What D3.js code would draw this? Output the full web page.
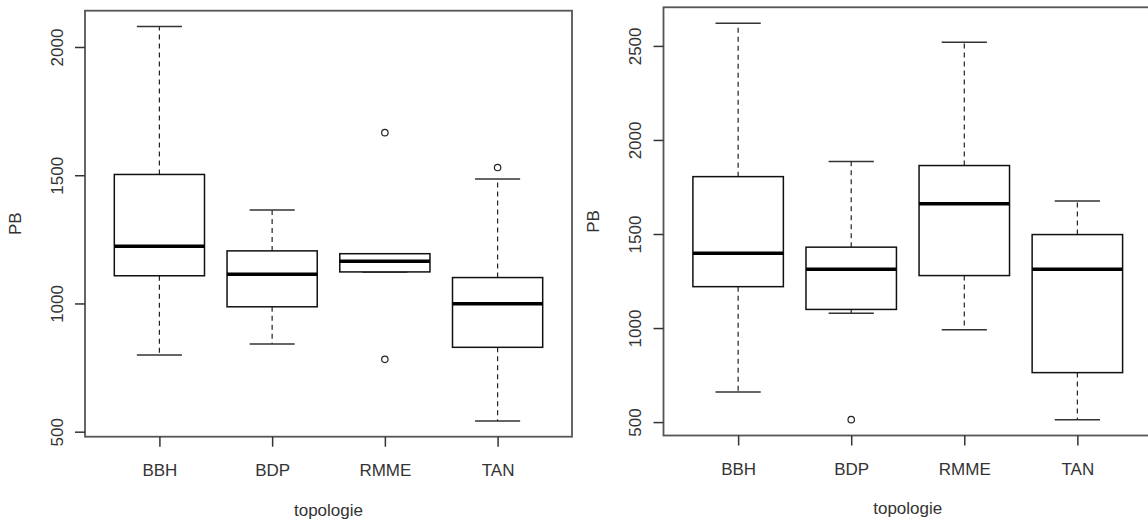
<!DOCTYPE html>
<html>
<head>
<meta charset="utf-8">
<script src="https://cdn.jsdelivr.net/npm/d3@7"></script>
<style>
  body { margin: 0; background: #fff; }
  text { font-family: "Liberation Sans", Arial, sans-serif; fill: #333; }
</style>
</head>
<body>
<div class="chart"></div>
<script>
var svgWidth = 1148;
var svgHeight = 519;

// categories on the x axis (same for both panels)
var categories = ["BBH", "BDP", "RMME", "TAN"];

// left panel: box statistics
var leftLower = [799, 842, 1123, 542];
var leftQ1 = [1108, 987, 1123, 829];
var leftMedian = [1223, 1114, 1165, 999];
var leftQ3 = [1503, 1205, 1194, 1101];
var leftUpper = [2080, 1364, 1194, 1485];
var leftOutliers = [[], [], [1666, 782], [1530]];
var leftTicks = [500, 1000, 1500, 2000];

// right panel
var rightLower = [660, 1078, 991, 513];
var rightQ1 = [1220, 1099, 1279, 763];
var rightMedian = [1398, 1313, 1661, 1313];
var rightQ3 = [1805, 1430, 1864, 1497];
var rightUpper = [2621, 1885, 2520, 1675];
var rightOutliers = [[], [513], [], []];
var rightTicks = [500, 1000, 1500, 2000, 2500];

var svg = d3.select(".chart")
  .append("svg")
  .attr("width", svgWidth)
  .attr("height", svgHeight);

svg.append("rect")
  .attr("width", svgWidth)
  .attr("height", svgHeight)
  .attr("fill", "#fff");

// draws one R-style boxplot panel
function drawPanel(box, lower, q1, median, q3, upper, outliers, ticks) {
  var width = box.right - box.left;
  var height = box.bottom - box.top;

  var g = svg.append("g")
    .attr("transform", `translate(${box.left}, ${box.top})`);

  // x: positions 1..n, range 0.5..n+0.5 padded by 4% like R
  var n = categories.length;
  var xPad = n * 0.04;
  var x = d3.scaleLinear()
    .domain([0.5 - xPad, n + 0.5 + xPad])
    .range([0, width]);

  // y: data range padded by 4%
  var all = lower.concat(upper, d3.merge(outliers));
  var yMin = d3.min(all), yMax = d3.max(all);
  var yPad = (yMax - yMin) * 0.04;
  var y = d3.scaleLinear()
    .domain([yMin - yPad, yMax + yPad])
    .range([height, 0]);

  var data = categories.map(function(c, i) {
    return {
      name: c, pos: i + 1,
      lower: lower[i], q1: q1[i], median: median[i], q3: q3[i], upper: upper[i],
      outliers: outliers[i]
    };
  });

  var boxW = x(1.4) - x(1);
  var capW = x(1.2) - x(1);

  // whiskers (dashed)
  data.forEach(function(d) {
    [[d.q3, d.upper], [d.q1, d.lower]].forEach(function(seg) {
      if (seg[0] === seg[1]) return;
      g.append("line")
        .attr("x1", x(d.pos)).attr("x2", x(d.pos))
        .attr("y1", y(seg[0])).attr("y2", y(seg[1]))
        .attr("stroke", "#222")
        .attr("stroke-width", 1.2)
        .attr("stroke-dasharray", "5,4");
    });
    [d.upper, d.lower].forEach(function(v) {
      g.append("line")
        .attr("x1", x(d.pos) - capW).attr("x2", x(d.pos) + capW)
        .attr("y1", y(v)).attr("y2", y(v))
        .attr("stroke", "#333")
        .attr("stroke-width", 1.5);
    });
  });

  // boxes
  g.selectAll(".box")
    .data(data)
    .enter()
    .append("rect")
    .attr("class", "box")
    .attr("x", d => x(d.pos) - boxW)
    .attr("width", boxW * 2)
    .attr("y", d => y(d.q3))
    .attr("height", d => y(d.q1) - y(d.q3))
    .attr("fill", "#fff")
    .attr("stroke", "#111")
    .attr("stroke-width", 1.5);

  // medians
  g.selectAll(".median")
    .data(data)
    .enter()
    .append("line")
    .attr("class", "median")
    .attr("x1", d => x(d.pos) - boxW)
    .attr("x2", d => x(d.pos) + boxW)
    .attr("y1", d => y(d.median))
    .attr("y2", d => y(d.median))
    .attr("stroke", "#000")
    .attr("stroke-width", 3.5);

  // outliers
  data.forEach(function(d) {
    d.outliers.forEach(function(v) {
      g.append("circle")
        .attr("cx", x(d.pos))
        .attr("cy", y(v))
        .attr("r", 3.2)
        .attr("fill", "none")
        .attr("stroke", "#222")
        .attr("stroke-width", 1.2);
    });
  });

  // frame
  g.append("rect")
    .attr("width", width)
    .attr("height", height)
    .attr("fill", "none")
    .attr("stroke", "#555")
    .attr("stroke-width", 1.8);

  // y axis
  var leftAxis = d3.axisLeft(y)
    .tickValues(ticks)
    .tickSize(10)
    .tickFormat(d3.format("d"));

  var yAxis = g.append("g").call(leftAxis);
  yAxis.select(".domain").remove();
  yAxis.selectAll("line").attr("stroke", "#333").attr("stroke-width", 1.5);
  yAxis.selectAll("text")
    .attr("x", 0)
    .attr("dy", "0.35em")
    .attr("transform", "translate(-28,0) rotate(-90)")
    .attr("text-anchor", "middle")
    .style("font-size", "17px")
    .style("fill", "#333");

  // x axis
  var bottomAxis = d3.axisBottom(x)
    .tickValues(data.map(d => d.pos))
    .tickSize(10)
    .tickPadding(17)
    .tickFormat((d, i) => categories[i]);

  var xAxis = g.append("g")
    .attr("transform", `translate(0, ${height})`)
    .call(bottomAxis);
  xAxis.select(".domain").remove();
  xAxis.selectAll("line").attr("stroke", "#333").attr("stroke-width", 1.5);
  xAxis.selectAll("text")
    .style("font-size", "17px")
    .style("fill", "#333");

  // axis titles
  g.append("text")
    .attr("x", width / 2)
    .attr("y", height + 79)
    .attr("text-anchor", "middle")
    .style("font-size", "17px")
    .text("topologie");

  g.append("text")
    .attr("transform", `translate(-70, ${height / 2}) rotate(-90)`)
    .attr("dy", "0.35em")
    .attr("text-anchor", "middle")
    .style("font-size", "17px")
    .text("PB");
}

drawPanel({ left: 85, right: 572, top: 10.7, bottom: 436.7 },
  leftLower, leftQ1, leftMedian, leftQ3, leftUpper, leftOutliers, leftTicks);

drawPanel({ left: 663.5, right: 1152, top: 7.3, bottom: 435.5 },
  rightLower, rightQ1, rightMedian, rightQ3, rightUpper, rightOutliers, rightTicks);
</script>
</body>
</html>
